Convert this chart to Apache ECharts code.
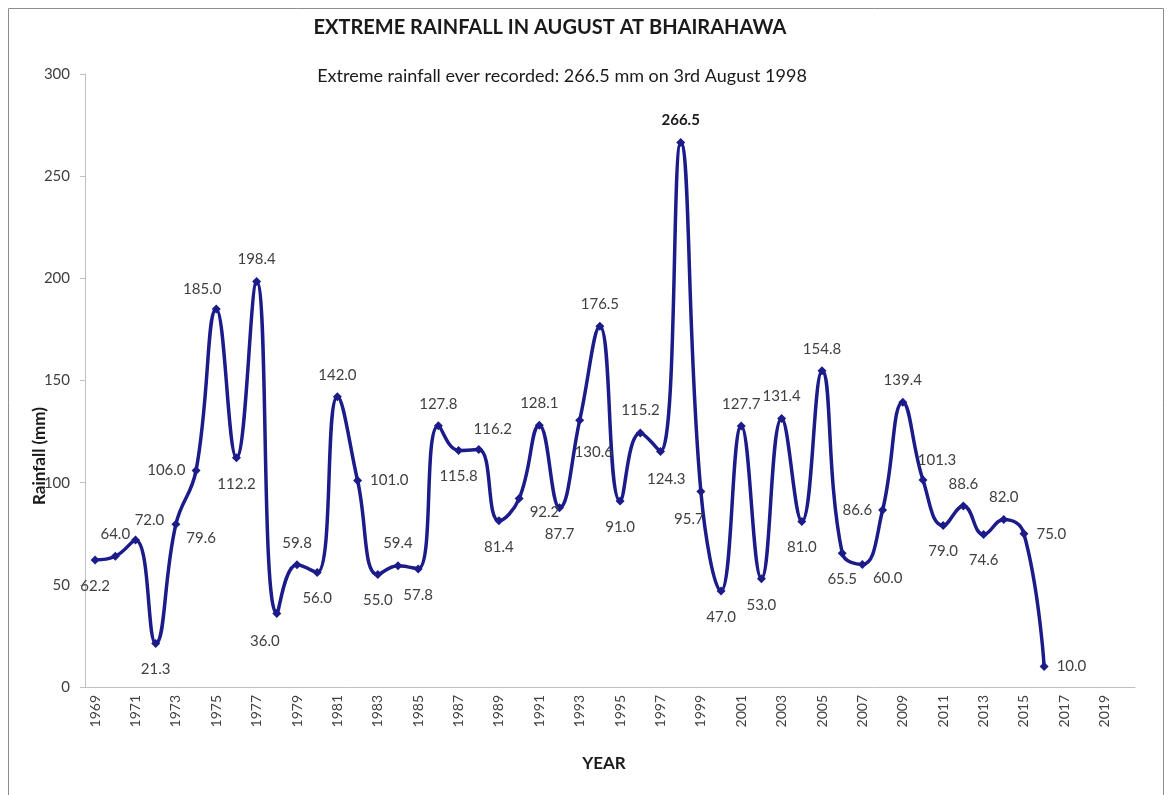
<!DOCTYPE html>
<html>
<head>
<meta charset="utf-8">
<script src="https://cdn.jsdelivr.net/npm/echarts@6/dist/echarts.min.js"></script>
<style>
  html, body { margin: 0; padding: 0; background: #fff; }
  #chart { width: 1175px; height: 795px; }
</style>
</head>
<body>
<div id="chart"></div>
<script>
// categories on the x axis (1969 .. 2020)
const years = [];
for (let y = 1969; y <= 2020; y++) years.push(String(y));

// extreme August rainfall (mm), 1969 .. 2016
const rainfall = [
  62.2, 64.0, 72.0, 21.3, 79.6, 106.0, 185.0, 112.2, 198.4, 36.0,
  59.8, 56.0, 142.0, 101.0, 55.0, 59.4, 57.8, 127.8, 115.8, 116.2,
  81.4, 92.2, 128.1, 87.7, 130.6, 176.5, 91.0, 124.3, 115.2, 266.5,
  95.7, 47.0, 127.7, 53.0, 131.4, 81.0, 154.8, 65.5, 60.0, 86.6,
  139.4, 101.3, 79.0, 88.6, 74.6, 82.0, 75.0, 10.0
];

const yTicks = [0, 50, 100, 150, 200, 250, 300];

const titleText = "EXTREME RAINFALL IN AUGUST AT BHAIRAHAWA";
const noteText = "Extreme rainfall ever recorded: 266.5 mm on 3rd August 1998";

// where each data label sits (style only)
const place = [
  "b", "t", "tr", "b", "br", "l", "tl", "b", "t", "bl",
  "t", "b", "t", "r", "b", "t", "b", "t", "b", "tr",
  "b", "br", "t", "b", "x0", "t", "b", "x1", "x2", "t",
  "bl", "b", "t", "b", "t", "b", "t", "b", "br", "l",
  "t", "tr", "b", "t", "b", "t", "r", "r"
];

const navy = "#1b1b8a";
const labelGrey = "#404040";

function labelFor(code) {
  switch (code) {
    case "t": return { position: "top", distance: 10 };
    case "b": return { position: "bottom", distance: 14 };
    case "l": return { position: "left", distance: 6 };
    case "r": return { position: "right", distance: 8 };
    case "tr": return { position: "top", distance: 8, offset: [14, 0] };
    case "tl": return { position: "top", distance: 8, offset: [-14, 0] };
    case "br": return { position: "right", distance: 6, offset: [0, 14] };
    case "bl": return { position: "bottom", distance: 16, offset: [-12, 0] };
    case "x0": return { position: "bottom", distance: 16, offset: [14, 4] };
    case "x1": return { position: "bottom", distance: 14, offset: [26, 20] };
    case "x2": return { position: "top", distance: 10, offset: [-20, -19] };
  }
  return {};
}

const seriesData = rainfall.map((v, i) => {
  const lab = labelFor(place[i]);
  if (v === 266.5) {
    lab.fontWeight = "bold";
    lab.color = "#1a1a1a";
  }
  return { value: v, label: lab };
});

const myChart = echarts.init(document.getElementById("chart"));
const font = "Lato, 'Open Sans', sans-serif";

const option = {
  backgroundColor: "#fff",
  textStyle: { fontFamily: font },
  animation: false,
  grid: { left: 85, right: 40, top: 74, bottom: 108 },
  graphic: [
    {
      type: "rect",
      shape: { x: 8.5, y: 8.5, width: 1155, height: 800 },
      style: { fill: "none", stroke: "#8c8c8c", lineWidth: 1 }
    },
    {
      type: "text", x: 550, y: 18,
      style: { text: titleText, font: "bold 20px " + font, fill: "#1a1a1a", textAlign: "center" }
    },
    {
      type: "text", x: 562, y: 67,
      style: { text: noteText, font: "18px " + font, fill: "#1a1a1a", textAlign: "center" }
    },
    {
      type: "text", x: 40, y: 456, rotation: Math.PI / 2,
      style: { text: "Rainfall (mm)", font: "bold 17px " + font, fill: "#1a1a1a", textAlign: "center", textVerticalAlign: "middle" }
    },
    {
      type: "text", x: 604, y: 764,
      style: { text: "YEAR", font: "bold 17px " + font, fill: "#1a1a1a", textAlign: "center", textVerticalAlign: "middle" }
    }
  ],
  xAxis: {
    type: "category",
    data: years,
    boundaryGap: true,
    axisLine: { lineStyle: { color: "#bfbfbf" } },
    axisTick: { interval: 0, length: 5, lineStyle: { color: "#bfbfbf" } },
    axisLabel: {
      interval: 1,
      rotate: 90,
      color: labelGrey,
      fontSize: 14,
      margin: 8
    },
    splitLine: { show: false }
  },
  yAxis: {
    type: "value",
    min: yTicks[0],
    max: yTicks[yTicks.length - 1],
    interval: 50,
    axisLine: { show: true, lineStyle: { color: "#bfbfbf" } },
    axisTick: { show: true, length: 5, lineStyle: { color: "#bfbfbf" } },
    axisLabel: { color: labelGrey, fontSize: 15, margin: 15 },
    splitLine: { show: false }
  },
  series: [
    {
      type: "line",
      data: seriesData,
      smooth: 0.45,
      symbol: "diamond",
      symbolSize: 9,
      lineStyle: { color: navy, width: 3.5 },
      itemStyle: { color: navy },
      label: {
        show: true,
        color: labelGrey,
        fontSize: 15,
        formatter: p => p.value.toFixed(1)
      }
    }
  ]
};

myChart.setOption(option);
window.addEventListener("resize", () => {
  myChart.resize();
});
</script>
</body>
</html>
